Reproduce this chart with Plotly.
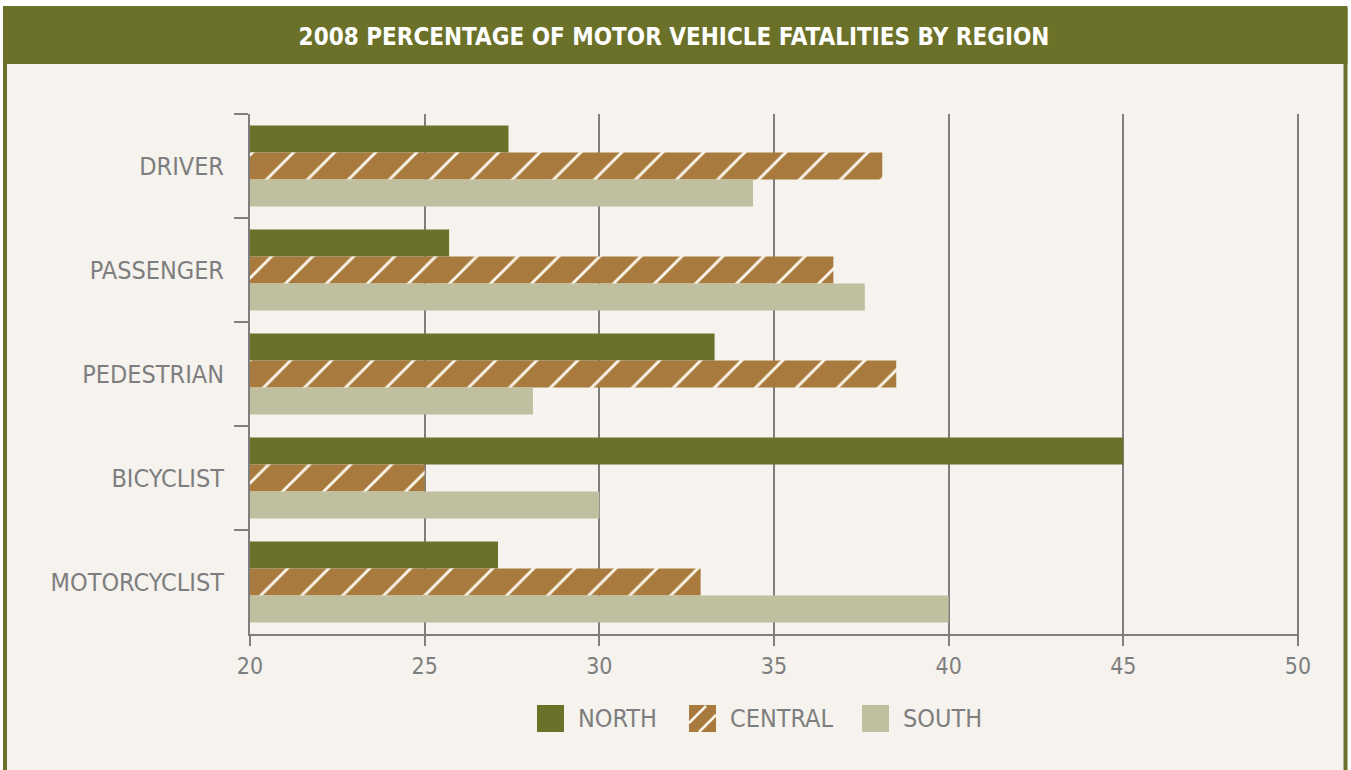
import plotly.graph_objects as go

# data
categories = ["DRIVER", "PASSENGER", "PEDESTRIAN", "BICYCLIST", "MOTORCYCLIST"]
north = [27.4, 25.7, 33.3, 45.0, 27.1]
central = [38.1, 36.7, 38.5, 25.0, 32.9]
south = [34.4, 37.6, 28.1, 30.0, 40.0]
x_ticks = [20, 25, 30, 35, 40, 45, 50]
series_names = ["NORTH", "CENTRAL", "SOUTH"]

OLIVE = "#6b7129"
BROWN = "#a87a3e"
KHAKI = "#c0bfa0"
BEIGE = "#f6f2ee"
GREY = "#7e7e7e"
HATCH = "#fbf6ea"
FONT = "Liberation Sans Narrow, Arial Narrow, DejaVu Sans Condensed, sans-serif"

W, H = 1351, 770
L, R, T, B = 250, 1299, 114, 634  # plot area in pixels


def px(x):
    return (x - L) / (R - L)


def py(y):
    return (B - y) / (B - T)


def main():
    fig = go.Figure()
    fig.add_trace(go.Bar(y=categories, x=north, name=series_names[0], orientation="h",
                         marker=dict(color=OLIVE, line_width=0)))
    fig.add_trace(go.Bar(y=categories, x=central, name=series_names[1], orientation="h",
                         marker=dict(color=BROWN, line_width=0,
                                     pattern=dict(shape="/", size=29, solidity=0.1,
                                                  fgcolor=HATCH, bgcolor=BROWN,
                                                  fgopacity=1))))
    fig.add_trace(go.Bar(y=categories, x=south, name=series_names[2], orientation="h",
                         marker=dict(color=KHAKI, line_width=0)))

    shapes = [
        # beige panel with olive side borders
        dict(type="rect", xref="paper", yref="paper", layer="below",
             x0=px(5), x1=px(1345.5), y0=py(790), y1=py(8),
             fillcolor=BEIGE, line=dict(color=OLIVE, width=4)),
        # title band
        dict(type="rect", xref="paper", yref="paper", layer="below",
             x0=px(3), x1=px(1347.5), y0=py(64), y1=py(8),
             fillcolor=OLIVE, line_width=0),
    ]

    # custom legend
    swatch = 27
    legend_items = [(537, OLIVE, "NORTH"), (689, BROWN, "CENTRAL"), (862, KHAKI, "SOUTH")]
    annotations = []
    ly0, ly1 = 705, 705 + swatch
    for x0, col, name in legend_items:
        shapes.append(dict(type="rect", xref="paper", yref="paper",
                           x0=px(x0), x1=px(x0 + swatch), y0=py(ly1), y1=py(ly0),
                           fillcolor=col, line_width=0))
        annotations.append(dict(text=name, xref="paper", yref="paper",
                                x=px(x0 + swatch + 12), y=py((ly0 + ly1) / 2),
                                xanchor="left", yanchor="middle", showarrow=False,
                                font=dict(family=FONT, size=25, color=GREY)))
    # hatch lines on the central swatch
    cx = 689
    for (a, b, c, d) in [(cx, ly0 + 18, cx + 17, ly0 + 1), (cx + 10, ly1, cx + swatch, ly0 + 10)]:
        shapes.append(dict(type="line", xref="paper", yref="paper",
                           x0=px(a), y0=py(b), x1=px(c), y1=py(d),
                           line=dict(color=HATCH, width=2.5)))

    fig.update_layout(
        width=W, height=H,
        margin=dict(l=L, r=W - R, t=T, b=H - B),
        paper_bgcolor="white",
        plot_bgcolor=BEIGE,
        barmode="group",
        bargap=0.22,
        bargroupgap=0,
        showlegend=False,
        title=dict(text="2008 PERCENTAGE OF MOTOR VEHICLE FATALITIES BY REGION",
                   x=(674 / W), xanchor="center", y=1 - 37 / H, yanchor="middle",
                   font=dict(family=FONT, size=24, color="white", weight="bold")),
        # range nudged past 50 so the last gridline is still drawn
        xaxis=dict(range=[20, 50.03], tickvals=x_ticks, showgrid=True,
                   gridcolor=GREY, gridwidth=2, zeroline=False,
                   showline=True, linecolor=GREY, linewidth=2,
                   ticks="outside", ticklen=10, tickwidth=2, tickcolor=GREY,
                   ticklabelstandoff=0,
                   tickfont=dict(family=FONT, size=23, color=GREY)),
        yaxis=dict(categoryorder="array", categoryarray=categories,
                   autorange="reversed", tickson="boundaries",
                   showline=True, linecolor=GREY, linewidth=2, showgrid=False,
                   ticks="outside", ticklen=14, tickwidth=2, tickcolor=GREY,
                   ticklabelstandoff=19,
                   tickfont=dict(family=FONT, size=25, color=GREY)),
        shapes=shapes,
        annotations=annotations,
    )

    # drop the browser's default body margin so the figure sits at the page corner
    fig.write_html("out.html", config={"displayModeBar": False},
                   post_script="document.body.style.margin='0';")


if __name__ == "__main__":
    main()
